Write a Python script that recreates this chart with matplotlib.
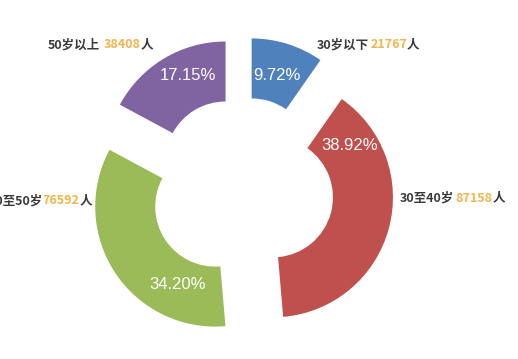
import matplotlib
matplotlib.use('Agg')
import matplotlib.pyplot as plt
import numpy as np

# ---- data ----
categories = ['30岁以下', '30至40岁', '40至50岁', '50岁以上']
counts = [21767, 87158, 76592, 38408]
colors = ['#4F81BD', '#C0504D', '#9BBB59', '#8064A2']

# ---- style / layout ----
W, H = 518, 359
R = 120.0               # outer radius in px
cx, cy = 242, 189       # pie centre in px (from top-left)
explode = [0.267] * 4
pct_angle = [17, 56, 206, 336]     # label direction, deg clockwise from top
pct_dist = [0.72, 0.77, 0.72, 0.78]
# outer label anchors (px, from top-left), alignment, gap after category
lab_pos = [(317, 45, 'left', 1), (400, 198, 'left', 1),
           (92, 201, 'right', 0), (153, 45, 'right', 4)]
num_color = '#F3B54A'
txt_color = '#3a3a3a'
cjk = ['Noto Sans CJK SC', 'DejaVu Sans']
lab_kw = dict(fontsize=9, family=cjk, weight='bold')

fig = plt.figure(figsize=(W / 100, H / 100), dpi=100)
ax = fig.add_axes([0, 0, 1, 1])
wedges, _ = ax.pie(counts, colors=colors, startangle=90, counterclock=False,
                   radius=1, explode=explode,
                   wedgeprops=dict(width=0.5, linewidth=0))
ax.set_xlim(-cx / R, (W - cx) / R)
ax.set_ylim(-(H - cy) / R, cy / R)
ax.set_aspect('equal')
ax.axis('off')

total = sum(counts)
for w, v, a, d in zip(wedges, counts, pct_angle, pct_dist):
    x0, y0 = w.center
    ar = np.deg2rad(a)
    ax.text(x0 + d * np.sin(ar), y0 + d * np.cos(ar), f'{v / total * 100:.2f}%',
            color='white', fontsize=12, family='Liberation Sans',
            ha='center', va='center')

for cat, v, (x, y, ha, gap) in zip(categories, counts, lab_pos):
    parts = [(cat, txt_color, gap), (str(v), num_color, 0), ('人', txt_color, 0)]
    if ha == 'left':
        s, c, g = parts[0]
        t = fig.text(x / W, 1 - y / H, s, color=c, ha='left', va='center', **lab_kw)
        prev_gap = g
        for s, c, g in parts[1:]:
            t = ax.annotate(s, xy=(1, 0), xycoords=t, xytext=(prev_gap, 0),
                            textcoords='offset pixels', color=c,
                            ha='left', va='bottom', **lab_kw)
            prev_gap = g
    else:
        rev = parts[::-1]
        s, c, g = rev[0]
        t = fig.text(x / W, 1 - y / H, s, color=c, ha='right', va='center', **lab_kw)
        for s, c, g in rev[1:]:
            t = ax.annotate(s, xy=(0, 0), xycoords=t, xytext=(-g, 0),
                            textcoords='offset pixels', color=c,
                            ha='right', va='bottom', **lab_kw)

fig.savefig('out.png', dpi=100, facecolor='white')
